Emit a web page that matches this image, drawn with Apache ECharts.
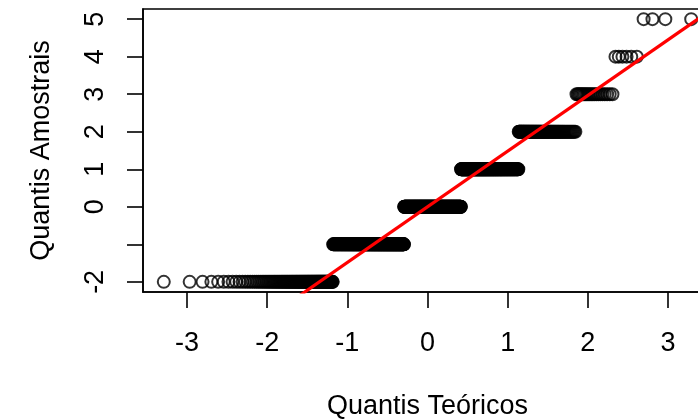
<!DOCTYPE html>
<html>
<head>
<meta charset="utf-8">
<script src="https://cdn.jsdelivr.net/npm/echarts@6/dist/echarts.min.js"></script>
<style>
html,body{margin:0;padding:0;background:#fff;}
#chart{width:698px;height:420px;}
</style>
</head>
<body>
<div id="chart"></div>
<script>
// Sample values (sorted) as levels and how many observations sit at each level (n = 1000)
var sampleLevels = [-2, -1, 0, 1, 2, 3, 4, 5];
var sampleCounts = [119, 266, 277, 210, 96, 22, 6, 4];
// Axis ticks
var xTicks = [-3, -2, -1, 0, 1, 2, 3];
var yTicks = [-2, -1, 0, 1, 2, 3, 4, 5];
var yTickLabels = [-2, 0, 1, 2, 3, 4, 5];
var xTitle = 'Quantis Teóricos';
var yTitle = 'Quantis Amostrais';

// inverse standard normal CDF (Acklam)
function qnorm(p) {
  var a = [-3.969683028665376e+01, 2.209460984245205e+02, -2.759285104469687e+02, 1.383577518672690e+02, -3.066479806614716e+01, 2.506628277459239e+00];
  var b = [-5.447609879822406e+01, 1.615858368580409e+02, -1.556989798598866e+02, 6.680131188771972e+01, -1.328068155288572e+01];
  var c = [-7.784894002430293e-03, -3.223964580411365e-01, -2.400758277161838e+00, -2.549732539343734e+00, 4.374664141464968e+00, 2.938163982698783e+00];
  var d = [7.784695709041462e-03, 3.224671290700398e-01, 2.445134137142996e+00, 3.754408661907416e+00];
  var pl = 0.02425, q, r;
  if (p < pl) {
    q = Math.sqrt(-2 * Math.log(p));
    return (((((c[0]*q+c[1])*q+c[2])*q+c[3])*q+c[4])*q+c[5]) / ((((d[0]*q+d[1])*q+d[2])*q+d[3])*q+1);
  } else if (p <= 1 - pl) {
    q = p - 0.5; r = q * q;
    return (((((a[0]*r+a[1])*r+a[2])*r+a[3])*r+a[4])*r+a[5])*q / (((((b[0]*r+b[1])*r+b[2])*r+b[3])*r+b[4])*r+1);
  } else {
    q = Math.sqrt(-2 * Math.log(1 - p));
    return -(((((c[0]*q+c[1])*q+c[2])*q+c[3])*q+c[4])*q+c[5]) / ((((d[0]*q+d[1])*q+d[2])*q+d[3])*q+1);
  }
}

// build sorted sample and QQ points
var sample = [];
sampleLevels.forEach(function (lv, k) {
  for (var j = 0; j < sampleCounts[k]; j++) sample.push(lv);
});
var n = sample.length;
var pts = sample.map(function (v, i) { return [qnorm((i + 1 - 0.5) / n), v]; });

// qqline through first and third quartiles
function quantile7(arr, p) {
  var h = (arr.length - 1) * p, lo = Math.floor(h), hi = Math.ceil(h);
  return arr[lo] + (h - lo) * (arr[hi] - arr[lo]);
}
var q1 = quantile7(sample, 0.25), q3 = quantile7(sample, 0.75);
var slope = (q3 - q1) / (qnorm(0.75) - qnorm(0.25));
var intercept = q1 - slope * qnorm(0.25);
var lineX = [-3.6, 3.6];
var lineData = lineX.map(function (x) { return [x, intercept + slope * x]; });

var font = '"Liberation Sans", Arial, sans-serif';
var fs = 27;
var chart = echarts.init(document.getElementById('chart'));
chart.setOption({
  animation: false,
  grid: {
    left: 143, top: 9, width: 569, height: 283,
    outerBoundsMode: 'none', containLabel: false,
    show: true, borderColor: '#000', borderWidth: 1.6, backgroundColor: 'transparent'
  },
  xAxis: {
    type: 'value', min: -3.55, max: 3.55,
    name: xTitle, nameLocation: 'middle', nameGap: 101,
    nameTextStyle: { color: '#000', fontSize: fs, fontFamily: font },
    axisLine: { show: true, onZero: false, lineStyle: { color: '#000', width: 1.6 } },
    axisTick: { show: true, inside: false, length: 16, customValues: xTicks, lineStyle: { color: '#000', width: 1.6 } },
    axisLabel: { customValues: xTicks, margin: 38, color: '#000', fontSize: fs, fontFamily: font },
    splitLine: { show: false }
  },
  yAxis: {
    type: 'value', min: -2.27, max: 5.27,
    name: yTitle, nameLocation: 'middle', nameGap: 88,
    nameTextStyle: { color: '#000', fontSize: fs, fontFamily: font },
    axisLine: { show: true, onZero: false, lineStyle: { color: '#000', width: 1.6 } },
    axisTick: { show: true, inside: false, length: 16, customValues: yTicks, lineStyle: { color: '#000', width: 1.6 } },
    axisLabel: { customValues: yTickLabels, rotate: 90, margin: 34, color: '#000', fontSize: fs, fontFamily: font },
    splitLine: { show: false }
  },
  series: [
    {
      type: 'scatter',
      data: pts,
      symbol: 'circle',
      symbolSize: 12,
      itemStyle: { color: 'rgba(0,0,0,0)', borderColor: '#000', borderWidth: 2 },
      clip: false,
      silent: true
    },
    {
      type: 'line',
      data: lineData,
      showSymbol: false,
      clip: true,
      lineStyle: { color: '#ff0000', width: 3.2 },
      silent: true
    }
  ]
});
</script>
</body>
</html>
